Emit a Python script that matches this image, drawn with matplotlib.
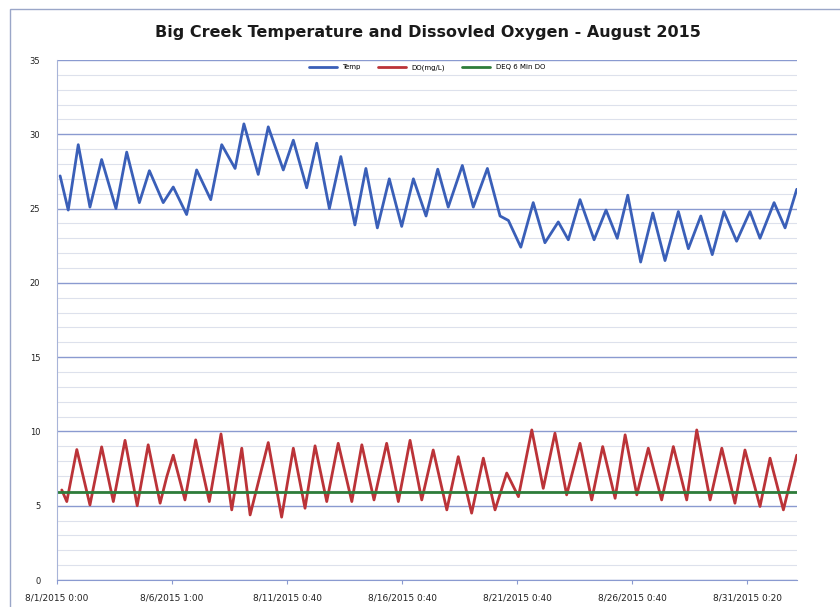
import matplotlib
matplotlib.use("Agg")
import matplotlib.pyplot as plt
from matplotlib.patches import Rectangle

# ==========================================================
# Data (days since 8/1/2015 0:00)
# ==========================================================

temp_days = [
    0.13, 0.47, 0.89, 1.38, 1.87, 2.47, 2.92, 3.45, 3.87, 4.45,
    4.87, 5.43, 5.85, 6.44, 6.90, 7.46, 7.83, 8.43, 8.85, 9.48,
    9.90, 10.46, 10.88, 11.41, 11.89, 12.48, 12.94, 13.42, 13.92, 14.44,
    14.93, 15.46, 15.95, 16.39, 16.98, 17.44, 18.03, 18.56, 18.91, 19.43,
    19.95, 20.44, 21.00, 21.42, 21.91, 22.50, 23.00, 23.47, 23.91, 24.45,
    24.96, 25.47, 26.03, 26.45, 26.97, 27.45, 27.94, 28.47, 29.03, 29.45,
    30.04, 30.50, 30.99,
]
temp_vals = [
    27.2, 24.9, 29.3, 25.1, 28.3, 25.0, 28.8, 25.4, 27.55, 25.4,
    26.45, 24.6, 27.6, 25.6, 29.3, 27.7, 30.7, 27.3, 30.5, 27.6,
    29.6, 26.4, 29.4, 25.0, 28.5, 23.9, 27.7, 23.7, 27.0, 23.8,
    27.0, 24.5, 27.65, 25.1, 27.9, 25.1, 27.7, 24.5, 24.2, 22.4,
    25.4, 22.7, 24.1, 22.9, 25.6, 22.9, 24.9, 23.0, 25.9, 21.4,
    24.7, 21.5, 24.8, 22.3, 24.5, 21.9, 24.8, 22.8, 24.8, 23.0,
    25.4, 23.7, 26.3,
]

do_days = [
    0.20, 0.41, 0.83, 1.38, 1.87, 2.36, 2.85, 3.36, 3.82, 4.32,
    4.60, 4.87, 5.36, 5.81, 6.38, 6.87, 7.32, 7.74, 8.09, 8.85,
    9.41, 9.90, 10.39, 10.81, 11.30, 11.78, 12.35, 12.77, 13.28, 13.81,
    14.30, 14.79, 15.28, 15.76, 16.33, 16.81, 17.37, 17.86, 18.35, 18.84,
    19.33, 19.89, 20.37, 20.86, 21.35, 21.91, 22.40, 22.86, 23.38, 23.80,
    24.29, 24.77, 25.33, 25.82, 26.38, 26.80, 27.36, 27.85, 28.40, 28.82,
    29.45, 29.87, 30.43, 30.99,
]
do_vals = [
    6.06, 5.28, 8.78, 5.05, 8.96, 5.28, 9.4, 5.0, 9.1, 5.17,
    6.96, 8.4, 5.39, 9.43, 5.28, 9.83, 4.72, 8.87, 4.38, 9.25,
    4.23, 8.87, 4.83, 9.03, 5.28, 9.2, 5.28, 9.1, 5.39, 9.2,
    5.28, 9.4, 5.39, 8.75, 4.72, 8.3, 4.5, 8.2, 4.72, 7.2,
    5.61, 10.1, 6.17, 9.88, 5.73, 9.2, 5.39, 8.98, 5.5, 9.77,
    5.73, 8.87, 5.39, 8.98, 5.39, 10.1, 5.39, 8.87, 5.17, 8.75,
    4.95, 8.2, 4.72, 8.4,
]

min_do = 5.95

tick_days = [0, 4.82, 9.64, 14.46, 19.28, 24.1, 28.92]
tick_labels = [
    "8/1/2015 0:00",
    "8/6/2015 1:00",
    "8/11/2015 0:40",
    "8/16/2015 0:40",
    "8/21/2015 0:40",
    "8/26/2015 0:40",
    "8/31/2015 0:20",
]

TITLE = "Big Creek Temperature and Dissovled Oxygen - August 2015"

# ==========================================================
# Plot
# ==========================================================

fig = plt.figure(figsize=(8.4, 6.07), dpi=100)

# outer chart frame
fig.patches.append(Rectangle(
    (10 / 840, -0.05), 1.2, 1 - 9 / 607 + 0.05,
    transform=fig.transFigure, fill=False,
    edgecolor="#9aa6c8", linewidth=1.0
))

ax = fig.add_axes([57 / 840, 1 - 580 / 607, 740 / 840, 520 / 607])

line_kw = dict(linewidth=2.0, solid_joinstyle="round", solid_capstyle="round")
ax.plot(temp_days, temp_vals, color="#3a5fb8", label="Temp", **line_kw)
ax.plot(do_days, do_vals, color="#bb3338", label="DO(mg/L)", **line_kw)
ax.plot([0, 31], [min_do, min_do], color="#2e7d3a", label="DEQ 6 Min DO",
        **line_kw)

ax.set_xlim(0, 31)
ax.set_ylim(0, 35)

ax.set_yticks(range(0, 36, 5))
ax.set_yticks(range(0, 36, 1), minor=True)
ax.grid(axis="y", which="major", color="#8a9ad0", linewidth=1.0)
ax.grid(axis="y", which="minor", color="#dde1ec", linewidth=0.8)
ax.set_axisbelow(True)

ax.set_xticks(tick_days)
ax.set_xticklabels(tick_labels, fontsize=6.5, color="#222222")
ax.tick_params(axis="x", length=3, color="#8a9ad0", pad=7)
ax.tick_params(axis="y", which="both", length=0, labelsize=6, pad=12,
               labelcolor="#222222")

for side in ["top", "right"]:
    ax.spines[side].set_visible(False)
ax.spines["left"].set_color("#a8b4d8")
ax.spines["bottom"].set_color("#8a9ad0")

fig.text(428 / 840, 1 - 32 / 607, TITLE, ha="center", va="center",
         fontsize=11.5, fontweight="bold", color="#1a1a1a")

ax.legend(loc="upper center", bbox_to_anchor=(0.5, 1.0), ncol=3,
          frameon=False, fontsize=5, handlelength=4, columnspacing=2.5,
          borderaxespad=0.2)

fig.savefig("out.png", dpi=100)
